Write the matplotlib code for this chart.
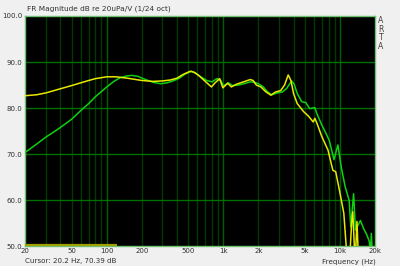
import numpy as np
import matplotlib
matplotlib.use("Agg")
import matplotlib.pyplot as plt

# yellow trace (Hz, dB)
yellow_f = [20, 25, 30, 40, 50, 60, 70, 80, 100, 120, 150, 200, 250, 300, 350,
            400, 450, 520, 560, 620, 700, 790, 850, 930, 990, 1090, 1170, 1300,
            1450, 1700, 1800, 1920, 2100, 2300, 2560, 2800, 3100, 3350, 3600,
            3800, 4000, 4300, 4900, 5400, 5900, 6100, 6400, 7000, 7900, 8700,
            9200, 9900, 10800, 11400, 12000, 12600, 12900, 13300, 13600, 14000,
            14500, 16000, 20000]
yellow_db = [82.7, 82.9, 83.3, 84.2, 84.9, 85.5, 86.0, 86.4, 86.8, 86.8, 86.5,
             86.0, 85.8, 85.9, 86.1, 86.5, 87.3, 88.0, 87.8, 87.0, 85.8, 84.6,
             85.5, 86.4, 84.4, 85.4, 84.6, 85.2, 85.6, 86.2, 86.0, 85.0, 84.6,
             83.6, 82.8, 83.5, 83.8, 85.0, 87.2, 86.0, 83.2, 81.0, 79.2, 78.2,
             77.0, 77.8, 76.5, 73.8, 70.9, 66.5, 66.2, 62.2, 57.2, 49.0, 45.0,
             55.0, 57.5, 50.0, 48.0, 55.4, 46.0, 40.0, 40.0]

# green trace (Hz, dB)
green_f = [20, 25, 30, 35, 40, 50, 60, 70, 80, 90, 100, 115, 130, 150, 165, 185,
           210, 250, 290, 330, 370, 420, 470, 530, 580, 640, 720, 800, 880, 950,
           1000, 1100, 1200, 1350, 1500, 1700, 1850, 2000, 2200, 2400, 2600,
           2900, 3200, 3500, 3850, 4050, 4300, 4700, 5100, 5500, 6100, 6300,
           7000, 7500, 8100, 8900, 9600, 10300, 11100, 12000, 12400, 13100,
           13600, 15000, 16000, 17000, 17900, 18300, 18600, 19000, 20000]
green_db = [70.4, 72.2, 73.7, 74.8, 75.8, 77.6, 79.5, 81.0, 82.5, 83.6, 84.6,
            85.8, 86.6, 87.0, 87.1, 86.9, 86.3, 85.6, 85.3, 85.5, 85.9, 86.5,
            87.4, 88.0, 87.6, 86.8, 86.0, 85.7, 86.4, 86.0, 84.8, 85.5, 84.9,
            85.0, 85.3, 85.7, 85.6, 85.3, 84.6, 83.5, 82.9, 83.3, 83.5, 84.3,
            85.9, 85.2, 83.2, 81.4, 81.2, 79.9, 80.1, 79.0, 76.3, 74.8, 73.0,
            68.8, 72.0, 67.0, 62.9, 60.0, 54.2, 61.4, 53.5, 55.6, 53.8, 52.5,
            51.0, 48.0, 52.8, 48.0, 46.0]

# marker band at the bottom
band_f = [20, 123]
band_db = [50.35, 50.35]

x_ticks = [20, 50, 100, 200, 500, 1000, 2000, 5000, 10000, 20000]
x_labels = ["20", "50", "100", "200", "500", "1k", "2k", "5k", "10k", "20k"]
y_ticks = [50, 60, 70, 80, 90, 100]

fig = plt.figure(figsize=(4, 2.66), dpi=100, facecolor="#f0f0f0")
ax = fig.add_axes([25.3 / 400, 1 - 246.3 / 266, 349.7 / 400, 230.3 / 266])
ax.set_facecolor("black")
ax.set_xscale("log")
ax.set_xlim(20, 20000)
ax.set_ylim(50, 100)

# vertical grid
for dec in [10, 100, 1000, 10000]:
    for m in range(1, 10):
        f = dec * m
        if f <= 20 or f >= 20000:
            continue
        c = "#006000" if m == 1 else "#003a00"
        ax.axvline(f, color=c, lw=1.0, zorder=1)
for y in [60, 70, 80, 90]:
    ax.axhline(y, color="#007000", lw=1.0, zorder=1)

ax.plot(green_f, green_db, color="#10d010", lw=1.1, zorder=3)
ax.plot(yellow_f, yellow_db, color="#e8e800", lw=1.1, zorder=4)
ax.plot(band_f, band_db, color="#a0a000", lw=1.6, zorder=5, solid_capstyle="butt")

ax.set_xticks(x_ticks)
ax.set_xticklabels(x_labels)
ax.xaxis.set_minor_locator(matplotlib.ticker.NullLocator())
ax.set_yticks(y_ticks)
ax.set_yticklabels(["%.1f" % v for v in y_ticks])
ax.tick_params(length=0, labelsize=5, colors="#303030")
ax.tick_params(axis="x", pad=1.5)
ax.tick_params(axis="y", pad=2)
for s in ax.spines.values():
    s.set_color("#70c070")
    s.set_linewidth(1.0)

fig.text(27 / 400, 1 - 9 / 266, "FR Magnitude dB re 20uPa/V (1/24 oct)",
         fontsize=5.3, color="#303030", va="center", ha="left")
fig.text(25 / 400, 1 - 261.5 / 266, "Cursor: 20.2 Hz, 70.39 dB",
         fontsize=5.1, color="#303030", va="center", ha="left")
fig.text(376 / 400, 1 - 261.5 / 266, "Frequency (Hz)",
         fontsize=5.1, color="#303030", va="center", ha="right")
fig.text(381 / 400, 1 - 16 / 266, "A\nR\nT\nA", fontsize=5.6, linespacing=0.95,
         color="#404040", va="top", ha="center", multialignment="center")

fig.savefig("out.png", dpi=100, facecolor=fig.get_facecolor())
